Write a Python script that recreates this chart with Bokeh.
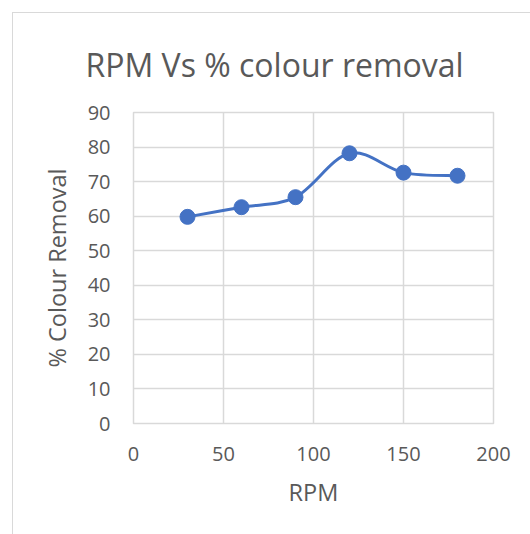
from bokeh.plotting import figure
from bokeh.models import Range1d, FixedTicker, ColumnDataSource
from bokeh.embed import file_html
from bokeh.resources import INLINE

rpm = [30, 60, 90, 120, 150, 180]
removal = [59.8, 62.6, 65.5, 78.2, 72.6, 71.7]
x_ticks = [0, 50, 100, 150, 200]
y_ticks = [0, 10, 20, 30, 40, 50, 60, 70, 80, 90]
title_text = "RPM Vs % colour removal"

BLUE = "#4472C4"
GRID = "#D9D9D9"
TXT = "#595959"
FONT = "Open Sans"

p = figure(width=518, height=522, output_backend="svg", toolbar_location=None,
           x_range=Range1d(0, 200), y_range=Range1d(0, 90),
           min_border_left=120, min_border_right=38, min_border_top=99, min_border_bottom=112,
           margin=(12, 0, 0, 12))
p.styles = {"border-left": "1px solid #D9D9D9", "border-top": "1px solid #D9D9D9"}
p.outline_line_color = GRID
p.outline_line_width = 1.5

xax = p.below[0]
yax = p.left[0]

p.title.text = title_text
p.title.text_font = FONT
p.title.text_font_size = "32px"
p.title.text_font_style = "normal"
p.title.text_color = TXT
p.title.align = "left"
p.title.offset = -48
p.title.standoff = 53

for ax in (xax, yax):
    ax.axis_line_color = None
    ax.major_tick_line_color = None
    ax.minor_tick_line_color = None
    ax.major_tick_out = 0
    ax.major_tick_in = 0
    ax.major_label_text_font = FONT
    ax.major_label_text_font_size = "20px"
    ax.major_label_text_color = TXT
    ax.axis_label_text_font = FONT
    ax.axis_label_text_font_size = "23.5px"
    ax.axis_label_text_font_style = "normal"
    ax.axis_label_text_color = TXT

xax.ticker = FixedTicker(ticks=x_ticks)
yax.ticker = FixedTicker(ticks=y_ticks)
xax.axis_label = "RPM"
yax.axis_label = "% Colour Removal"
xax.major_label_standoff = 23
yax.major_label_standoff = 23
xax.axis_label_standoff = 12
yax.axis_label_standoff = 12

p.xgrid.ticker = FixedTicker(ticks=x_ticks)
p.ygrid.ticker = FixedTicker(ticks=y_ticks)
p.xgrid.grid_line_color = GRID
p.ygrid.grid_line_color = GRID
p.xgrid.grid_line_width = 1.5
p.ygrid.grid_line_width = 1.5

# Smoothed line (Catmull-Rom style Bezier segments, as in Excel smoothing)
n = len(rpm)
x0, y0, x1, y1, cx0, cy0, cx1, cy1 = [], [], [], [], [], [], [], []
for i in range(n - 1):
    xa, ya = rpm[i], removal[i]
    xb, yb = rpm[i + 1], removal[i + 1]
    xp, yp = (rpm[i - 1], removal[i - 1]) if i > 0 else (xa, ya)
    xn, yn = (rpm[i + 2], removal[i + 2]) if i + 2 < n else (xb, yb)
    x0.append(xa); y0.append(ya); x1.append(xb); y1.append(yb)
    cx0.append(xa + (xb - xp) / 6); cy0.append(ya + (yb - yp) / 6)
    cx1.append(xb - (xn - xa) / 6); cy1.append(yb - (yn - ya) / 6)
seg = ColumnDataSource(dict(x0=x0, y0=y0, x1=x1, y1=y1, cx0=cx0, cy0=cy0, cx1=cx1, cy1=cy1))
p.bezier(x0="x0", y0="y0", x1="x1", y1="y1", cx0="cx0", cy0="cy0", cx1="cx1", cy1="cy1",
         source=seg, line_color=BLUE, line_width=3)
p.scatter(rpm, removal, size=15, fill_color=BLUE, line_color=BLUE)

open("out.html", "w").write(file_html(p, INLINE))
